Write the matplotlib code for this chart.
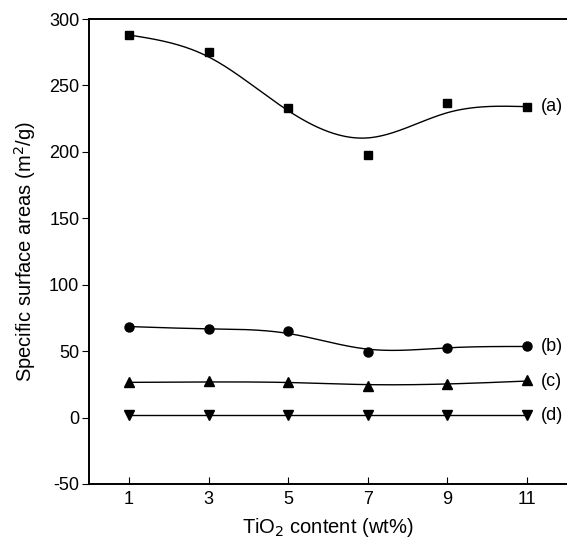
import numpy as np
import matplotlib
matplotlib.use("Agg")
import matplotlib.pyplot as plt

plt.rcParams['font.family'] = ['Liberation Sans', 'DejaVu Sans']
plt.rcParams['axes.unicode_minus'] = False

tio2 = [1, 3, 5, 7, 9, 11]

# measured points
sa_a = [288, 275, 233, 198, 237, 234]
sa_b = [68.5, 66.5, 65.5, 49, 52.7, 53.5]
sa_c = [26.6, 27.8, 26.9, 24, 25, 28]
sa_d = [1.8, 1.8, 1.8, 1.8, 1.8, 1.8]

# smoothed curve values at the same x
fit_a = [288, 271.5, 231, 210.5, 229.5, 234]
fit_b = [68.5, 66.8, 63.3, 51.5, 52.5, 53.5]
fit_c = [26.5, 26.8, 26.4, 24.8, 25.3, 27.5]
fit_d = [1.8, 1.8, 1.8, 1.8, 1.8, 1.8]

labels = ['(a)', '(b)', '(c)', '(d)']


def natural_spline(x, y, xs):
    x = np.asarray(x, float)
    y = np.asarray(y, float)
    n = len(x)
    h = np.diff(x)
    A = np.zeros((n, n))
    r = np.zeros(n)
    A[0, 0] = 1
    A[-1, -1] = 1
    for i in range(1, n - 1):
        A[i, i-1] = h[i-1]
        A[i, i] = 2 * (h[i-1] + h[i])
        A[i, i+1] = h[i]
        r[i] = 6 * ((y[i+1] - y[i]) / h[i] - (y[i] - y[i-1]) / h[i-1])
    m = np.linalg.solve(A, r)
    out = np.empty_like(xs)
    for k, t in enumerate(xs):
        i = min(max(np.searchsorted(x, t) - 1, 0), n - 2)
        a = x[i+1] - t
        b = t - x[i]
        out[k] = (m[i] * a**3 + m[i+1] * b**3) / (6 * h[i]) \
            + (y[i] / h[i] - m[i] * h[i] / 6) * a \
            + (y[i+1] / h[i] - m[i+1] * h[i] / 6) * b
    return out


fig = plt.figure(figsize=(5.67, 5.42), dpi=100)
ax = fig.add_axes([89/567, 58/542, 1 - 89/567, 465/542])

xs = np.linspace(1, 11, 300)
series = [(sa_a, fit_a, 's', 6), (sa_b, fit_b, 'o', 6.5),
          (sa_c, fit_c, '^', 6.5), (sa_d, fit_d, 'v', 6.5)]
for (pts, fit, mk, ms), lab in zip(series, labels):
    ax.plot(xs, natural_spline(tio2, fit, xs), color='black', lw=1)
    ax.plot(tio2, pts, linestyle='none', marker=mk, ms=ms, color='black')
    ax.text(11.35, fit[-1], lab, fontsize=13, va='center', ha='left')

ax.set_xlim(0, 12)
ax.set_ylim(-50, 300)
ax.set_xticks(tio2)
ax.set_yticks(np.arange(-50, 301, 50))
ax.tick_params(axis='x', direction='in', length=5, labelsize=13, pad=5)
ax.tick_params(axis='y', direction='out', length=5, labelsize=13, pad=2)
for s in ['left', 'bottom', 'top']:
    ax.spines[s].set_linewidth(1.4)
ax.spines['right'].set_visible(False)

ax.set_xlabel('TiO$_2$ content (wt%)', fontsize=14.5, labelpad=6)
ax.set_ylabel('Specific surface areas (m$^2$/g)', fontsize=14.5, labelpad=8)

fig.savefig('out.png', dpi=100)
